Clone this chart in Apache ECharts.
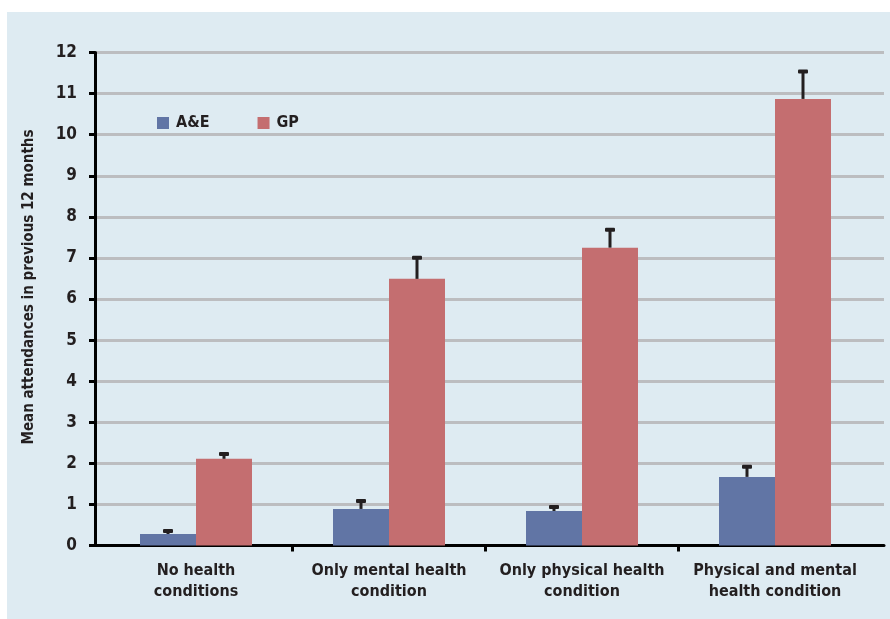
<!DOCTYPE html>
<html>
<head>
<meta charset="utf-8">
<script src="https://cdn.jsdelivr.net/npm/echarts@6/dist/echarts.min.js"></script>
<style>
  html, body { margin: 0; padding: 0; background: #ffffff; }
  #panel { position: absolute; left: 7px; top: 12px; width: 883px; height: 607px; background: #deebf2; }
  #chart { position: absolute; left: 0; top: 0; width: 890px; height: 619px; }
</style>
</head>
<body>
<div id="panel"></div>
<div id="chart"></div>
<script>
const categories = ['No health\nconditions', 'Only mental health\ncondition', 'Only physical health\ncondition', 'Physical and mental\nhealth condition'];
const seriesNames = ['A&E', 'GP'];
const aeValues = [0.28, 0.89, 0.84, 1.67];
const aeUpper  = [0.38, 1.11, 0.96, 1.94];
const gpValues = [2.11, 6.49, 7.25, 10.87];
const gpUpper  = [2.25, 7.03, 7.71, 11.56];
const yTicks = [0, 1, 2, 3, 4, 5, 6, 7, 8, 9, 10, 11, 12];

const FONT = '"DejaVu Sans Condensed", "DejaVu Sans", sans-serif';
const TEXT = '#231f20';
const BAR_W = 56;
const Y_MIN = yTicks[0], Y_MAX = yTicks[yTicks.length - 1];

function errorSeries(name, values, upper, offsetSign, withBoundaryTicks) {
  return {
    type: 'custom',
    name: name + ' error',
    xAxisIndex: 1, yAxisIndex: 1,
    z: 5,
    silent: true,
    data: values.map((v, i) => [i, v, upper[i]]),
    renderItem: function (params, api) {
      const idx = api.value(0);
      const top = api.coord([idx, api.value(1)]);
      const hi = api.coord([idx, api.value(2)]);
      const base = api.coord([idx, Y_MIN]);
      const x = top[0] + offsetSign * BAR_W / 2;
      const children = [
        { type: 'line', shape: { x1: x, y1: top[1], x2: x, y2: hi[1] + 1 },
          style: { stroke: TEXT, lineWidth: 3 } },
        { type: 'rect', shape: { x: x - 5, y: hi[1] - 1, width: 10, height: 4, r: 1 },
          style: { fill: TEXT } }
      ];
      if (withBoundaryTicks && idx > 0) {
        const bx = base[0] - api.size([1, 0])[0] / 2;
        children.push({ type: 'line', shape: { x1: bx, y1: base[1], x2: bx, y2: base[1] + 6 },
          style: { stroke: '#000', lineWidth: 3 } });
      }
      return { type: 'group', children: children };
    }
  };
}

const chart = echarts.init(document.getElementById('chart'), null, { renderer: 'canvas' });
chart.setOption({
  backgroundColor: 'transparent',
  animation: false,
  textStyle: { fontFamily: FONT },
  grid: [
    { left: 95, right: 6, top: 52.5, bottom: 73.5, containLabel: false },
    { left: 99.5, right: 18.5, top: 52.5, bottom: 73.5, containLabel: false }
  ],
  legend: {
    data: seriesNames,
    left: 152, top: 110,
    icon: 'rect', itemWidth: 12, itemHeight: 12, itemGap: 48,
    textStyle: { fontFamily: FONT, fontSize: 16, fontWeight: 'bold', color: TEXT, padding: [0, 0, 0, 2] }
  },
  xAxis: [
    {
      type: 'value', gridIndex: 0, min: 0, max: 1,
      axisLine: { show: true, onZero: false, lineStyle: { color: '#000', width: 3 } },
      axisTick: { show: false }, axisLabel: { show: false }, splitLine: { show: false }
    },
    {
      type: 'category', gridIndex: 1,
      data: categories,
      axisLine: { show: false },
      axisTick: { show: false },
      axisLabel: { fontFamily: FONT, fontSize: 16, fontWeight: 'bold', color: TEXT, lineHeight: 21, margin: 15, interval: 0 }
    }
  ],
  yAxis: [
    {
      type: 'value', gridIndex: 0,
      min: Y_MIN, max: Y_MAX, interval: 1,
      name: 'Mean attendances in previous 12 months',
      nameLocation: 'middle', nameGap: 58,
      nameTextStyle: { fontFamily: FONT, fontSize: 15, fontWeight: 'bold', color: TEXT, padding: [0, 0, 0, 24] },
      axisLine: { show: true, lineStyle: { color: '#000', width: 3 } },
      axisTick: { show: true, length: 6, lineStyle: { color: '#000', width: 3 } },
      axisLabel: { fontFamily: FONT, fontSize: 17, fontWeight: 'bold', color: TEXT, margin: 18 },
      splitLine: { show: true, lineStyle: { color: '#bcbdc0', width: 3 } }
    },
    {
      type: 'value', gridIndex: 1,
      min: Y_MIN, max: Y_MAX, interval: 1,
      axisLine: { show: false }, axisTick: { show: false }, axisLabel: { show: false }, splitLine: { show: false }
    }
  ],
  series: [
    { name: 'A&E', type: 'bar', xAxisIndex: 1, yAxisIndex: 1, data: aeValues, barWidth: BAR_W, barGap: '0%', itemStyle: { color: '#6175a5' }, z: 3 },
    { name: 'GP', type: 'bar', xAxisIndex: 1, yAxisIndex: 1, data: gpValues, barWidth: BAR_W, barGap: '0%', itemStyle: { color: '#c46e70' }, z: 3 },
    errorSeries('A&E', aeValues, aeUpper, -1, true),
    errorSeries('GP', gpValues, gpUpper, 1, false)
  ]
});
</script>
</body>
</html>
